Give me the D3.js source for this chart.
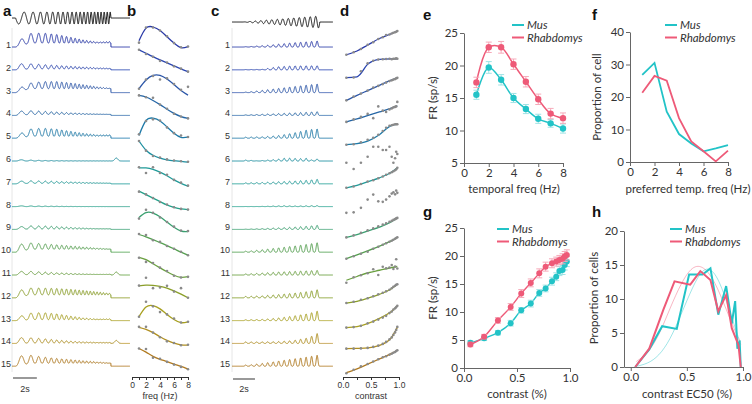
<!DOCTYPE html>
<html>
<head>
<meta charset="utf-8">
<script src="https://cdn.jsdelivr.net/npm/d3@7"></script>
<style>
  body { margin: 0; background: #fff; }
  svg { font-family: "Liberation Sans", Arial, sans-serif; }
  .lab { font-weight: bold; font-size: 15px; fill: #111; }
  .sm { font-size: 9px; fill: #333; }
  .rt { font-family: Lato, "Open Sans", sans-serif; font-size: 11.5px; fill: #333; }
  .ax path, .ax line { stroke: #666; }
  .ax text { font-family: Lato, "Open Sans", sans-serif; font-size: 11.5px; fill: #333; }
  .axs path, .axs line { stroke: #333; }
  .axs text { font-size: 8.5px; fill: #333; }
</style>
</head>
<body>
<svg width="752" height="404"></svg>
<script>
// ---- data ----
const rows = ['1','2','3','4','5','6','7','8','9','10','11','12','13','14','15'];
const rowColors = ['#2a3aa8','#2a45b0','#2a55a8','#2566a6','#1f7aa8','#1d8fa0','#1f9a98','#24a08a',
                   '#3aa070','#55a050','#6aa040','#8a9e28','#a8a020','#b08f20','#b07a20'];
const freqs = [1,2,3,4,5,6,7,8];
// panel b: normalised tuning (fit + measured)
const bFit = [
  [0.4,0.95,1.0,0.85,0.58,0.3,0.1,0.15],
  [1.0,0.85,0.7,0.56,0.43,0.3,0.17,0.05],
  [0.3,0.68,0.88,0.88,0.72,0.48,0.22,0.02],
  [1.0,0.93,0.78,0.6,0.4,0.22,0.08,0.0],
  [0.25,0.9,1.0,0.88,0.62,0.35,0.17,0.18],
  [1.0,0.6,0.38,0.26,0.18,0.14,0.11,0.08],
  [0.82,0.82,0.76,0.64,0.48,0.3,0.15,0.03],
  [0.8,0.65,0.5,0.35,0.2,0.1,0.03,0.0],
  [0.65,0.86,0.84,0.68,0.45,0.22,0.06,0.04],
  [0.9,0.8,0.68,0.55,0.42,0.28,0.13,0.0],
  [0.9,0.8,0.62,0.44,0.27,0.12,0.03,0.06],
  [0.65,0.68,0.67,0.63,0.55,0.43,0.29,0.13],
  [0.3,0.72,0.78,0.64,0.4,0.18,0.04,0.08],
  [0.83,0.74,0.6,0.42,0.26,0.14,0.07,0.06],
  [0.9,0.74,0.56,0.43,0.33,0.22,0.12,0.0]
];
const bDots = [
  [0.32,0.98,0.98,0.85,0.6,0.3,0.12,0.15],
  [1.0,0.82,0.7,0.52,0.45,0.28,0.18,0.05],
  [0.3,0.7,0.85,0.7,0.75,0.5,0.25,0.38],
  [1.0,0.92,0.9,0.6,0.42,0.2,0.08,0.0],
  [0.3,0.88,0.95,0.9,0.6,0.35,0.25,0.18],
  [1.0,0.58,0.35,0.28,0.2,0.15,0.12,0.1],
  [0.85,0.6,0.85,0.6,0.52,0.3,0.18,0.05],
  [0.78,0.66,0.5,0.33,0.22,0.1,0.03,0.0],
  [0.6,0.98,0.85,0.65,0.45,0.25,0.08,0.06],
  [0.92,0.88,0.65,0.58,0.4,0.28,0.15,0.0],
  [0.88,0.7,0.65,0.45,0.3,0.1,0.02,0.05],
  [0.66,1.0,0.55,0.58,0.65,0.4,0.55,0.13],
  [0.3,0.95,0.75,0.5,0.4,0.22,0.05,0.08],
  [0.85,0.85,0.6,0.4,0.22,0.15,0.05,0.07],
  [0.9,0.88,0.5,0.45,0.32,0.2,0.1,0.0]
];
// panel d: contrast responses
const contrasts = [0.06,0.19,0.32,0.44,0.54,0.63,0.71,0.77,0.83,0.87,0.9,0.93,0.95,0.97];
const dFitX = [0.06,0.25,0.45,0.65,0.85,0.97];
const dFit = [
  [0.05,0.2,0.45,0.7,0.88,1.0],
  [0.05,0.08,0.6,0.78,0.8,0.8],
  [0.05,0.25,0.45,0.65,0.85,0.95],
  [0.1,0.22,0.36,0.5,0.64,0.74],
  [0.1,0.14,0.25,0.5,0.85,0.92],
  null,
  [0.2,0.3,0.45,0.6,0.8,1.0],
  null,
  [0.04,0.15,0.3,0.45,0.65,0.82],
  [0.1,0.25,0.42,0.6,0.8,0.95],
  [0.15,0.3,0.45,0.55,0.65,0.7],
  [0.15,0.22,0.35,0.5,0.7,0.9],
  [0.08,0.12,0.25,0.45,0.7,0.95],
  [0.15,0.16,0.18,0.28,0.55,1.0],
  [0.1,0.25,0.45,0.65,0.85,1.0]
];
const dDots = [
  [0.05,0.15,0.28,0.45,0.55,0.68,0.75,0.84,0.86,0.9,0.93,0.95,0.97,1.0],
  [0.04,0.05,0.3,0.62,0.72,0.77,0.78,0.79,0.8,0.78,0.8,0.8,0.82,0.8],
  [0.05,0.2,0.32,0.44,0.56,0.63,0.7,0.76,0.82,0.85,0.88,0.9,0.93,0.95],
  [0.1,0.2,0.3,0.42,0.25,0.72,0.55,0.5,0.6,0.64,0.68,0.7,0.72,0.9],
  [0.1,0.12,0.2,0.3,0.38,0.5,0.65,0.78,0.86,0.88,0.9,0.92,0.92,0.92],
  [0.29,0.04,0.29,0.53,0.93,0.93,0.8,0.8,0.93,0.53,0.29,0.47,0.73,0.64],
  [0.2,0.25,0.35,0.45,0.5,0.58,0.65,0.72,0.78,0.82,0.86,0.9,0.94,1.0],
  [0.11,0.13,0.31,0.64,0.84,0.57,0.55,0.64,0.77,0.88,0.93,0.85,1.0,0.91],
  [0.04,0.12,0.22,0.32,0.4,0.48,0.55,0.6,0.66,0.7,0.74,0.77,0.8,0.82],
  [0.1,0.2,0.3,0.38,0.5,0.58,0.66,0.72,0.78,0.82,0.86,0.9,0.93,0.96],
  [0.05,0.27,0.35,0.43,0.59,0.36,0.69,0.63,0.66,0.76,0.6,0.7,0.99,0.62],
  [0.15,0.2,0.28,0.34,0.42,0.5,0.56,0.62,0.68,0.74,0.8,0.84,0.88,0.9],
  [0.08,0.1,0.15,0.25,0.32,0.4,0.48,0.55,0.66,0.72,0.8,0.85,0.9,0.95],
  [0.15,0.15,0.16,0.18,0.22,0.27,0.34,0.42,0.52,0.6,0.7,0.8,0.9,1.02],
  [0.08,0.22,0.36,0.45,0.55,0.64,0.72,0.76,0.82,0.86,0.9,0.93,0.97,1.0]
];
// trace amplitudes (a: frequency chirp, c: contrast chirp), in px
const aGain = [10,6,8,4,8,1.5,3,1,3.5,8,4,10,9,7,11];
const aSustained = [4,1,4,1,2,0,0.5,0,0.5,3,0.5,3,1,0.5,3];
const aOffset = [0,0,0,0,0,3,0,0,0,0,3,0,0,3,0];
const cGain = [6,5,9,5,10,3,4.5,1,5,10,6.5,9,10,10,11];

// panel e
const tempFreq = [1,2,3,4,5,6,7,8];
const eMus = [15.5,19.7,17.8,15.0,13.3,11.8,11.1,10.3];
const eMusErr = [0.7,0.9,0.8,0.7,0.7,0.7,0.6,0.7];
const eRhab = [17.4,22.8,22.8,20.2,17.5,14.8,12.6,11.9];
const eRhabErr = [0.8,0.8,0.9,0.8,0.8,0.8,0.8,0.8];
// panel f
const fMus = [26.8,30.5,15.5,8.6,5.7,3.3,4.2,5.2];
const fRhab = [21.3,26.5,25.0,13.5,6.3,3.3,0.2,3.5];
// panel g
const gMus = [4.5,5.3,6.3,8.0,10.3,11.5,13.4,14.2,15.5,16.3,17.3,17.5,18.4,19.0];
const gMusErr = [0.4,0.4,0.4,0.5,0.5,0.6,0.6,0.6,0.7,0.7,0.8,0.8,0.9,0.9];
const gRhab = [4.2,5.6,8.5,10.9,13.3,15.2,16.9,18.1,18.7,19.0,19.3,19.5,19.9,20.2];
const gRhabErr = [0.4,0.4,0.5,0.6,0.7,0.7,0.8,0.8,0.8,0.8,0.8,0.9,0.9,0.9];
// panel h
const hMusX = [0.04,0.165,0.28,0.41,0.52,0.64,0.71,0.78,0.85,0.9,0.93,0.95,0.97,0.98];
const hMus = [0,2.6,6.0,5.6,13.6,13.6,14.5,7.7,11.9,6.4,9.7,2.7,3.9,0];
const hRhabX = [0.04,0.165,0.29,0.39,0.53,0.62,0.71,0.78,0.85,0.9,0.96,0.98];
const hRhab = [0,2.7,8.4,12.6,12.1,14.1,12.8,8.2,10.6,5.7,3.2,0];
const hFitX = [0.05,0.15,0.25,0.35,0.45,0.55,0.65,0.75,0.85,0.95,0.98];
const hMusFit = [0.1,0.6,1.8,4.2,7.8,11.6,14.2,13.6,9.8,4.8,3.8];
const hRhabFit = [0.8,2.2,4.8,8.6,12.2,14.5,14.5,12.3,8.5,4.5,3.3];

const colMus = '#22c3c7', colRhab = '#ee5a78';
const errMus = '#9fe3e5', errRhab = '#f6a9b9';

// ---- drawing ----
const svg = d3.select('svg');
const rowY = i => 47 + i * 22.8;
const line = d3.line();

// panel letters
[['a',3,16],['b',127,16],['c',211,16],['d',340,16],['e',423,20],['f',592,20],['g',423,217],['h',592,217]]
  .forEach(([t,x,y]) => svg.append('text').attr('class','lab').attr('x',x).attr('y',y).text(t));

// --- a: frequency chirp traces ---
const xA = d3.scaleLinear().domain([-0.3, 9.6]).range([12, 130]);
const tA = d3.range(-0.3, 9.6, 0.008);
// chirp phase as drawn (sweep ends after 20 cycles at t = 8 s)
const chirpPhase = t => 2 * Math.PI * (0.9 * t + 0.2 * t * t);
svg.append('line').attr('x1',12).attr('x2',12).attr('y1',28).attr('y2',372).attr('stroke','#e6e6e6');
svg.append('path')
  .attr('d', line(tA.map(t => [xA(t), 18 + (t >= 0 && t <= 8 ? 6 * Math.sin(chirpPhase(t)) : 0)])))
  .attr('fill','none').attr('stroke','#111').attr('stroke-width',1);

rows.forEach((name, i) => {
  const y0 = rowY(i);
  const env = d3.scaleLinear().domain(freqs).range(bFit[i]).clamp(true);
  const pts = tA.map(t => {
    let v = 0;
    if (t >= 0 && t <= 8) {
      const w = Math.pow((1 - Math.cos(chirpPhase(t))) / 2, 1.3);
      v = aGain[i] * env(1 + 7 * t / 8) * w + aSustained[i] * Math.min(1, t / 1.2);
    } else if (t > 8) {
      v = aOffset[i] * Math.exp(-Math.pow((t - 8.45) / 0.18, 2));
    }
    return [xA(t), y0 - v];
  });
  svg.append('path').attr('d', line(pts)).attr('fill','none')
    .attr('stroke', rowColors[i]).attr('stroke-width',1);
  svg.append('text').attr('class','sm').attr('x',11).attr('y',y0 + 1)
    .attr('text-anchor','end').text(name);
});
svg.append('line').attr('x1',13).attr('x2',13 + xA(2) - xA(0)).attr('y1',378).attr('y2',378)
  .attr('stroke','#555').attr('stroke-width',1.2);
svg.append('text').attr('class','sm').attr('x',25).attr('y',392).attr('text-anchor','middle').text('2s');

// --- b: frequency tuning ---
const xB = d3.scaleLinear().domain([0, 8]).range([132, 188]);
rows.forEach((name, i) => {
  const y = d3.scaleLinear().domain([0, 1]).range([rowY(i) + 3, rowY(i) - 20]);
  svg.append('path')
    .attr('d', d3.line().curve(d3.curveNatural).x((d, k) => xB(freqs[k])).y(d => y(d))(bFit[i]))
    .attr('fill','none').attr('stroke', rowColors[i]).attr('stroke-width',1.3);
  svg.append('g').selectAll('circle').data(bDots[i]).join('circle')
    .attr('cx', (d, k) => xB(freqs[k])).attr('cy', d => y(d)).attr('r',1.3).attr('fill','#8a8a8a');
});
svg.append('g').attr('class','axs').attr('transform','translate(0,377)')
  .call(d3.axisBottom(xB).tickValues(d3.range(0, 9)).tickFormat(d => d % 2 === 0 ? d : '')
    .tickSize(3).tickSizeOuter(0).tickPadding(2));
svg.append('text').attr('class','sm').attr('x',160).attr('y',399).attr('text-anchor','middle').text('freq (Hz)');

// --- c: contrast chirp traces ---
const xC = d3.scaleLinear().domain([-1, 8.2]).range([232, 333]);
const tC = d3.range(-1, 8.2, 0.01);
svg.append('line').attr('x1',232).attr('x2',232).attr('y1',28).attr('y2',372).attr('stroke','#e6e6e6');
svg.append('path')
  .attr('d', line(tC.map(t => [xC(t), 22 - (t >= 0 && t <= 7 ? 6 * (t / 7) * Math.sin(4 * Math.PI * t) : 0)])))
  .attr('fill','none').attr('stroke','#111').attr('stroke-width',1);

rows.forEach((name, i) => {
  const y0 = rowY(i);
  const env = dFit[i]
    ? d3.scaleLinear().domain(dFitX).range(dFit[i]).clamp(true)
    : d3.scaleLinear().domain(contrasts).range(dDots[i]).clamp(true);
  const pts = tC.map(t => {
    let v = 0;
    if (t >= 0 && t <= 7) {
      const w = Math.pow((1 - Math.cos(4 * Math.PI * t)) / 2, 2);
      v = cGain[i] * env(t / 7) * w;
    }
    return [xC(t), y0 - v];
  });
  svg.append('path').attr('d', line(pts)).attr('fill','none')
    .attr('stroke', rowColors[i]).attr('stroke-width',1);
  svg.append('text').attr('class','sm').attr('x',230).attr('y',y0 + 1)
    .attr('text-anchor','end').text(name);
});
svg.append('line').attr('x1',233).attr('x2',233 + xC(2) - xC(0)).attr('y1',379).attr('y2',379)
  .attr('stroke','#555').attr('stroke-width',1.2);
svg.append('text').attr('class','sm').attr('x',244).attr('y',392).attr('text-anchor','middle').text('2s');

// --- d: contrast tuning ---
const xD = d3.scaleLinear().domain([0, 1]).range([343, 399]);
rows.forEach((name, i) => {
  const y = d3.scaleLinear().domain([0, 1]).range([rowY(i) + 9, rowY(i) - 16]);
  if (dFit[i]) {
    svg.append('path')
      .attr('d', d3.line().curve(d3.curveMonotoneX).x((d, k) => xD(dFitX[k])).y(d => y(d))(dFit[i]))
      .attr('fill','none').attr('stroke', rowColors[i]).attr('stroke-width',1.3);
  }
  svg.append('g').selectAll('circle').data(dDots[i]).join('circle')
    .attr('cx', (d, k) => xD(contrasts[k])).attr('cy', d => y(d)).attr('r',1.3).attr('fill','#8a8a8a');
});
svg.append('g').attr('class','axs').attr('transform','translate(0,377)')
  .call(d3.axisBottom(xD).tickValues([0,0.25,0.5,0.75,1])
    .tickFormat(d => (d === 0 || d === 0.5 || d === 1) ? d3.format('.1f')(d) : '')
    .tickSize(3).tickSizeOuter(0).tickPadding(2));
svg.append('text').attr('class','sm').attr('x',371).attr('y',399).attr('text-anchor','middle').text('contrast');

// --- e-h helpers ---
function axes(xs, ys, xTicks, yTicks, xFmt) {
  svg.append('g').attr('class','ax').attr('transform', `translate(0,${ys.range()[0]})`)
    .call(d3.axisBottom(xs).tickValues(xTicks).tickFormat(xFmt).tickSize(4).tickSizeOuter(0).tickPadding(2));
  svg.append('g').attr('class','ax').attr('transform', `translate(${xs.range()[0]},0)`)
    .call(d3.axisLeft(ys).tickValues(yTicks).tickSize(4).tickSizeOuter(0).tickPadding(2));
}
function titles(xt, xx, xy, yt, yx, yy) {
  svg.append('text').attr('class','rt').attr('x',xx).attr('y',xy).attr('text-anchor','middle').text(xt);
  svg.append('text').attr('class','rt').attr('text-anchor','middle')
    .attr('transform', `translate(${yx},${yy}) rotate(-90)`).text(yt);
}
function legend(x, y) {
  [['Mus', colMus], ['Rhabdomys', colRhab]].forEach(([t, c], k) => {
    svg.append('line').attr('x1',x).attr('x2',x + 12).attr('y1',y + k * 12.5).attr('y2',y + k * 12.5)
      .attr('stroke',c).attr('stroke-width',2);
    svg.append('text').attr('class','rt').attr('x',x + 15).attr('y',y + k * 12.5 + 4)
      .attr('font-style','italic').text(t);
  });
}
function errPoints(xs, ys, xv, yv, ev, col, ecol, r) {
  const g = svg.append('g');
  xv.forEach((x, k) => {
    const px = xs(x);
    g.append('line').attr('x1',px).attr('x2',px).attr('y1',ys(yv[k] - ev[k])).attr('y2',ys(yv[k] + ev[k]))
      .attr('stroke',ecol).attr('stroke-width',1);
    [yv[k] - ev[k], yv[k] + ev[k]].forEach(v =>
      g.append('line').attr('x1',px - 3).attr('x2',px + 3).attr('y1',ys(v)).attr('y2',ys(v))
        .attr('stroke',ecol).attr('stroke-width',1));
  });
  g.selectAll('circle').data(yv).join('circle')
    .attr('cx', (d, k) => xs(xv[k])).attr('cy', d => ys(d)).attr('r', r).attr('fill', col);
}

// --- e ---
const xE = d3.scaleLinear().domain([0, 8]).range([464, 563]);
const yE = d3.scaleLinear().domain([5, 25]).range([163, 33]);
axes(xE, yE, [0,2,4,6,8], [5,10,15,20,25], d3.format('d'));
[[eMus, eMusErr, colMus, errMus], [eRhab, eRhabErr, colRhab, errRhab]].forEach(([v, e, c, ec]) => {
  svg.append('path')
    .attr('d', d3.line().curve(d3.curveCatmullRom).x((d, k) => xE(tempFreq[k])).y(d => yE(d))(v))
    .attr('fill','none').attr('stroke',c).attr('stroke-width',1.5);
  errPoints(xE, yE, tempFreq, v, e, c, ec, 3.2);
});
legend(512, 25);
titles('temporal freq (Hz)', 514, 193, 'FR (sp/s)', 437, 98);

// --- f ---
const xF = d3.scaleLinear().domain([0, 8]).range([630, 728]);
const yF = d3.scaleLinear().domain([0, 40]).range([162, 32]);
axes(xF, yF, [0,2,4,6,8], [0,10,20,30,40], d3.format('d'));
[[fMus, colMus], [fRhab, colRhab]].forEach(([v, c]) =>
  svg.append('path')
    .attr('d', d3.line().x((d, k) => xF(tempFreq[k])).y(d => yF(d))(v))
    .attr('fill','none').attr('stroke',c).attr('stroke-width',1.8));
legend(665, 25);
titles('preferred temp. freq (Hz)', 688, 193, 'Proportion of cell', 601, 97);

// --- g ---
const xG = d3.scaleLinear().domain([0, 1]).range([464, 570]);
const yG = d3.scaleLinear().domain([0, 25]).range([368, 228]);
axes(xG, yG, [0,0.5,1], [0,5,10,15,20,25], d3.format('.1f'));
[[gMus, gMusErr, colMus, errMus], [gRhab, gRhabErr, colRhab, errRhab]].forEach(([v, e, c, ec]) => {
  svg.append('path')
    .attr('d', d3.line().curve(d3.curveMonotoneX).x((d, k) => xG(contrasts[k])).y(d => yG(d))(v))
    .attr('fill','none').attr('stroke',c).attr('stroke-width',1.4);
  errPoints(xG, yG, contrasts, v, e, c, ec, 3);
});
legend(497, 229);
titles('contrast (%)', 517, 398, 'FR (sp/s)', 437, 298);

// --- h ---
const xH = d3.scaleLinear().domain([-0.06, 1]).range([624, 743]);
const yH = d3.scaleLinear().domain([0, 20]).range([367, 231]);
axes(xH, yH, [0,0.5,1], [0,5,10,15,20], d3.format('.1f'));
[[hMusFit, colMus], [hRhabFit, colRhab]].forEach(([v, c]) =>
  svg.append('path')
    .attr('d', d3.line().curve(d3.curveNatural).x((d, k) => xH(hFitX[k])).y(d => yH(d))(v))
    .attr('fill','none').attr('stroke',c).attr('stroke-width',0.8).attr('opacity',0.55));
[[hMusX, hMus, colMus], [hRhabX, hRhab, colRhab]].forEach(([xv, v, c]) =>
  svg.append('path')
    .attr('d', d3.line().x((d, k) => xH(xv[k])).y(d => yH(d))(v))
    .attr('fill','none').attr('stroke',c).attr('stroke-width',2));
legend(670, 229);
titles('contrast EC50 (%)', 687, 398, 'Proportion of cells', 598, 298);
</script>
</body>
</html>
